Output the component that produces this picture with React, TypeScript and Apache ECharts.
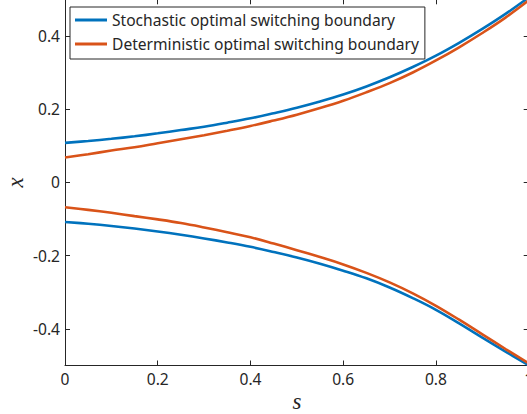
import React, { useEffect, useRef } from "react";
import * as echarts from "echarts";

const sValues = [0, 0.05, 0.1, 0.15, 0.2, 0.25, 0.3, 0.35, 0.4, 0.45, 0.5, 0.55, 0.6, 0.65, 0.7, 0.75, 0.8, 0.85, 0.9, 0.95, 1.0];

const stochasticUpper = [0.108, 0.113, 0.119, 0.126, 0.134, 0.143, 0.152, 0.163, 0.175, 0.189, 0.204, 0.221, 0.24, 0.262, 0.287, 0.315, 0.346, 0.381, 0.419, 0.46, 0.505];
const stochasticLower = [-0.108, -0.113, -0.119, -0.126, -0.134, -0.143, -0.153, -0.164, -0.176, -0.19, -0.205, -0.222, -0.241, -0.262, -0.287, -0.316, -0.348, -0.385, -0.424, -0.462, -0.499];
const deterministicUpper = [0.068, 0.077, 0.087, 0.096, 0.107, 0.118, 0.129, 0.141, 0.154, 0.169, 0.185, 0.203, 0.223, 0.246, 0.271, 0.3, 0.333, 0.369, 0.408, 0.45, 0.497];
const deterministicLower = [-0.068, -0.075, -0.083, -0.092, -0.101, -0.111, -0.123, -0.136, -0.15, -0.167, -0.185, -0.204, -0.224, -0.247, -0.273, -0.303, -0.337, -0.375, -0.415, -0.455, -0.494];

const seriesNames = ["Stochastic optimal switching boundary", "Deterministic optimal switching boundary"];
const seriesColors = ["#0072BD", "#D95319"];

const xName = "s";
const yName = "x";

const pairs = (ys: number[]) => sValues.map((s, i) => [s, ys[i]]);

const fmt = (v: number) => {
  const r = Math.round(v * 10) / 10;
  if (r === 0) return "0";
  return String(r);
};

export default function App() {
  const ref = useRef<HTMLDivElement>(null);
  useEffect(() => {
    if (!ref.current) return;
    const chart = echarts.init(ref.current, undefined, { renderer: "svg" });
    const font = "'Noto Sans', sans-serif";
    const serif = "'Liberation Serif', 'DejaVu Serif', serif";
    const axisColor = "#262626";
    const lineSeries = (name: string, color: string, data: number[][]) => ({
      type: "line",
      name,
      data,
      smooth: 0.4,
      showSymbol: false,
      symbol: "none",
      lineStyle: { color, width: 2.6 },
      itemStyle: { color },
      xAxisIndex: 0,
      yAxisIndex: 0,
      clip: true,
    });
    chart.setOption({
      animation: false,
      backgroundColor: "#ffffff",
      grid: { left: 65, right: -1.7, top: -0.7, bottom: 48.5, containLabel: false, outerBoundsMode: "none" },
      legend: {
        data: seriesNames.map((n) => ({ name: n })),
        orient: "vertical",
        left: 70,
        top: 7,
        padding: [5, 6, 7, 5],
        itemGap: 8,
        itemWidth: 32,
        itemHeight: 3,
        icon: "rect",
        backgroundColor: "#ffffff",
        borderColor: "#262626",
        borderWidth: 1,
        borderRadius: 0,
        textStyle: { fontFamily: font, fontSize: 15.6, color: axisColor, lineHeight: 16, padding: [0, 0, 0, 0] },
      },
      xAxis: [
        {
          type: "value",
          min: 0,
          max: 1,
          interval: 0.2,
          name: xName,
          nameLocation: "middle",
          nameGap: 24,
          nameMoveOverlap: false,
          nameTextStyle: { fontFamily: serif, fontStyle: "italic", fontSize: 23, color: axisColor },
          axisLine: { show: true, onZero: false, lineStyle: { color: axisColor, width: 1 } },
          axisTick: { show: true, inside: true, length: 5, lineStyle: { color: axisColor } },
          axisLabel: { fontFamily: font, fontSize: 15.6, color: axisColor, margin: 5, formatter: fmt },
          splitLine: { show: false },
        },
        {
          type: "value",
          position: "top",
          min: 0,
          max: 1,
          interval: 0.2,
          axisLine: { show: true, onZero: false, lineStyle: { color: axisColor, width: 1 } },
          axisTick: { show: true, inside: true, length: 5, lineStyle: { color: axisColor } },
          axisLabel: { show: false },
          splitLine: { show: false },
        },
      ],
      yAxis: [
        {
          type: "value",
          min: -0.5,
          max: 0.5,
          splitNumber: 5,
          name: yName,
          nameLocation: "middle",
          nameGap: 40,
          nameMoveOverlap: false,
          nameRotate: 90,
          nameTextStyle: { fontFamily: serif, fontStyle: "italic", fontSize: 23, lineHeight: 20, color: axisColor },
          axisLine: { show: true, onZero: false, lineStyle: { color: axisColor, width: 1 } },
          axisTick: { show: true, inside: true, length: 5, lineStyle: { color: axisColor } },
          axisLabel: { fontFamily: font, fontSize: 15.6, color: axisColor, margin: 5, showMinLabel: false, showMaxLabel: false, formatter: fmt },
          splitLine: { show: false },
        },
        {
          type: "value",
          position: "right",
          min: -0.5,
          max: 0.5,
          splitNumber: 5,
          axisLine: { show: true, onZero: false, lineStyle: { color: axisColor, width: 1 } },
          axisTick: { show: true, inside: true, length: 5, lineStyle: { color: axisColor } },
          axisLabel: { show: false },
          splitLine: { show: false },
        },
      ],
      series: [
        lineSeries(seriesNames[0], seriesColors[0], pairs(stochasticUpper)),
        lineSeries(seriesNames[0], seriesColors[0], pairs(stochasticLower)),
        lineSeries(seriesNames[1], seriesColors[1], pairs(deterministicUpper)),
        lineSeries(seriesNames[1], seriesColors[1], pairs(deterministicLower)),
      ],
    });
    return () => chart.dispose();
  }, []);
  return <div ref={ref} style={{ position: "absolute", left: 0, top: 0, width: 527, height: 414 }} />;
}
